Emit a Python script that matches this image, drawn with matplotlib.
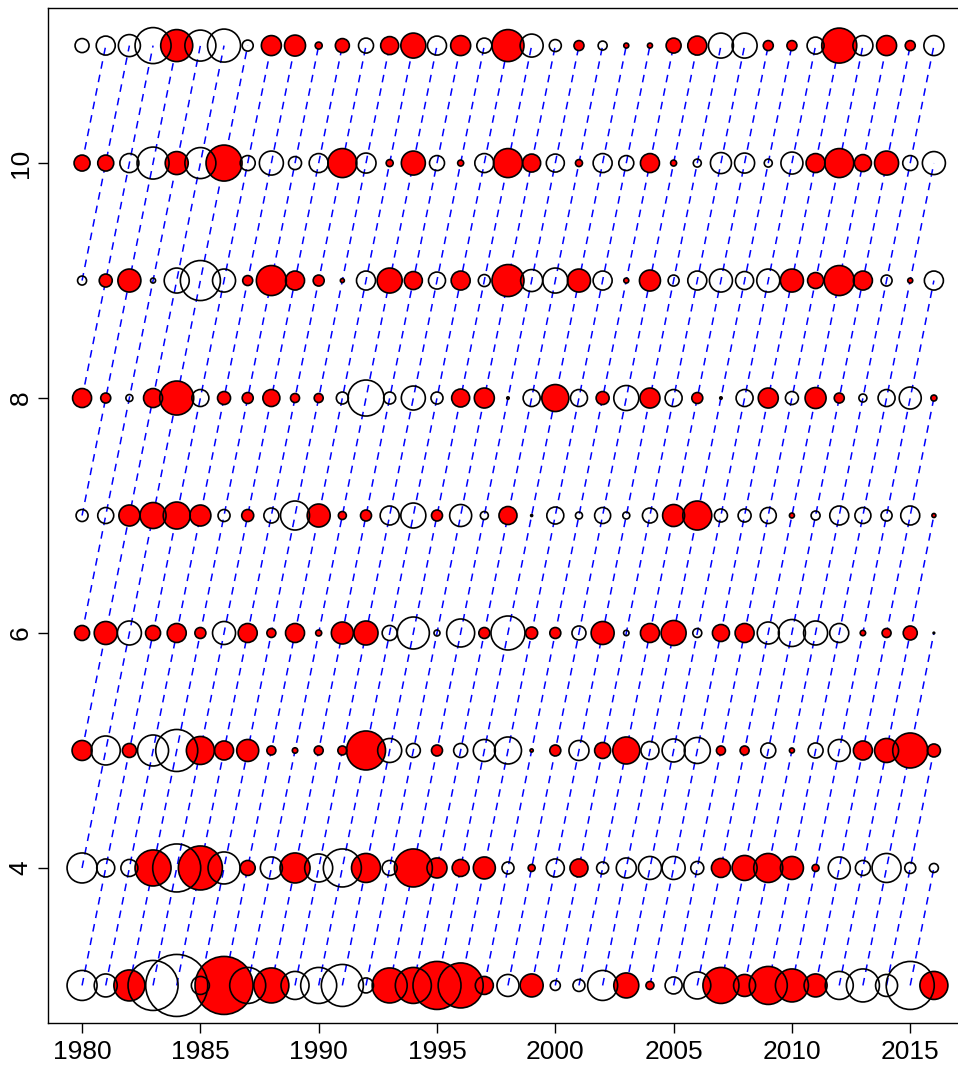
import numpy as np
import matplotlib.pyplot as plt

plt.rcParams['font.family'] = ['Liberation Sans', 'DejaVu Sans']

years = np.arange(1980, 2017)
ages = np.arange(3, 12)

# residuals by age (positive = filled red, negative = open), 1980..2016
age3 = [-1.5, -1.15, 1.55, -2.5, -3.1, -0.9, 2.9, -1.8, 1.75, -1.4, -1.8, -2.1, -0.75,
        1.75, 1.8, 2.4, 2.25, 0.9, -1.1, 1.15, -0.5, -0.6, -1.5, 1.25, 0.4, -0.85,
        -1.35, 1.8, 1.1, 1.9, 1.65, 1.15, -1.4, -1.65, -1.1, -2.4, 1.4]
age4 = [-1.5, -0.9, -0.85, 1.8, -2.4, 2.2, -1.6, 0.75, -1.1, 1.5, -1.4, -1.9, 1.45,
        -0.75, 1.9, 1.0, 0.85, 1.1, -0.6, 0.35, -0.9, 0.9, -0.6, -1.0, -1.15, -1.15,
        -0.65, 0.95, 1.25, 1.45, 1.15, 0.35, -1.1, -0.75, -1.45, -0.55, -0.45]
age5 = [1.0, -1.45, 0.7, -1.55, -2.1, 1.4, 0.95, 1.1, 0.45, 0.27, 0.45, 0.45, 1.95,
        -1.2, -0.7, 0.55, -0.7, -1.1, -1.35, 0.16, 0.55, -1.0, 0.8, 1.35, -0.9, -1.15,
        -1.3, 0.45, 0.45, -0.75, 0.25, -0.75, -1.1, 0.95, 1.2, 1.75, 0.65]
age6 = [0.75, 1.15, -1.2, 0.75, 0.95, 0.55, -1.15, 0.95, 0.45, 0.95, 0.3, 1.1, 1.2,
        -0.75, -1.6, -0.3, -1.4, 0.55, -1.7, 0.6, 0.55, -0.7, 1.15, -0.27, 0.95, 1.25,
        -0.45, 0.85, 0.95, -1.1, -1.35, -1.2, -0.95, 0.27, 0.45, 0.7, -0.08]
age7 = [-0.6, -0.8, 1.05, 1.3, 1.35, 1.05, -0.6, 0.6, -0.75, -1.45, 1.15, 0.4, 0.55,
        -0.95, -1.25, 0.55, -1.1, -0.4, 0.9, -0.1, -0.85, -0.35, -0.8, -0.35, -0.75,
        1.1, 1.45, -0.65, -0.65, -0.8, 0.25, -0.45, -0.95, -0.8, -0.55, -0.95, 0.2]
age8 = [0.95, 0.5, -0.35, 0.95, 1.7, -0.85, 0.65, 0.55, 0.85, 0.45, 0.45, -0.6, -1.8,
        -0.6, -1.2, -0.6, 0.9, 1.0, 0.12, -0.85, 1.35, -0.85, 0.65, -1.25, 1.0, -0.85,
        0.55, 0.12, -0.85, 1.0, -0.65, 1.05, 0.5, -0.4, -0.85, -1.1, 0.3]
age9 = [-0.45, 0.65, 1.15, -0.25, -1.25, -2.0, -1.15, 0.5, 1.5, 0.95, 0.55, 0.2, -0.95,
        1.25, 0.9, -0.85, 0.95, -0.6, 1.6, -1.1, -1.25, 1.15, -0.95, 0.25, 1.05, -0.55,
        -0.95, -1.15, -0.9, -1.15, 1.15, 0.8, 1.5, 0.95, -0.55, 0.25, -0.95]
age10 = [0.8, 0.8, -0.95, -1.6, 1.15, -1.55, 1.8, -0.75, -1.2, -0.65, -0.95, 1.45, -1.0,
         0.35, 1.2, -0.75, 0.3, -0.95, 1.45, 0.9, -0.9, 0.35, -0.95, -0.75, 0.95, 0.3,
         -0.4, -1.05, -1.0, -0.4, -1.1, 0.95, 1.45, 0.85, 1.2, -0.75, -1.15]
age11 = [-0.7, -0.95, -1.1, -1.8, 1.6, -1.55, -1.65, -0.55, 1.0, 1.05, 0.35, 0.7, -0.75,
         0.9, 1.25, -0.95, 1.0, -0.75, 1.6, -1.15, -0.6, 0.5, -0.45, 0.25, 0.25, 0.75,
         0.95, -1.25, -1.25, 0.5, 0.5, -0.85, 1.75, -1.0, 1.0, 0.5, -1.0]

resid = np.array([age3, age4, age5, age6, age7, age8, age9, age10, age11])

fig = plt.figure(figsize=(9.58, 10.65), dpi=100)
ax = fig.add_axes([0.0501, 0.0394, 0.9603, 0.9531])
ax.set_xlim(1978.56, 2017.44)
ax.set_ylim(2.68, 11.32)

# cohort lines
for c in range(years[0] - ages[-1], years[-1] - ages[0] + 1):
    yrs = [y for y in years if ages[0] <= y - c <= ages[-1]]
    if len(yrs) > 1:
        ax.plot(yrs, [y - c for y in yrs], color='blue', lw=1.1,
                ls=(0, (5, 4)), zorder=1)

X, Y = np.meshgrid(years, ages)
size = (2 * 10 * np.abs(resid) * 0.72) ** 2
pos = resid > 0
ax.scatter(X[pos], Y[pos], s=size[pos], c='red', edgecolors='none', zorder=2)
ax.scatter(X.ravel(), Y.ravel(), s=size.ravel(), facecolors='none',
           edgecolors='black', linewidths=1.2, zorder=3)

ax.set_xticks(range(1980, 2016, 5))
ax.set_yticks([4, 6, 8, 10])
ax.tick_params(direction='out', length=7, width=1, labelsize=19)
ax.tick_params(axis='x', pad=5)
ax.tick_params(axis='y', pad=4)
plt.setp(ax.get_yticklabels(), rotation=90, va='center')
for s in ax.spines.values():
    s.set_linewidth(1.0)

fig.savefig('out.png', dpi=100)
